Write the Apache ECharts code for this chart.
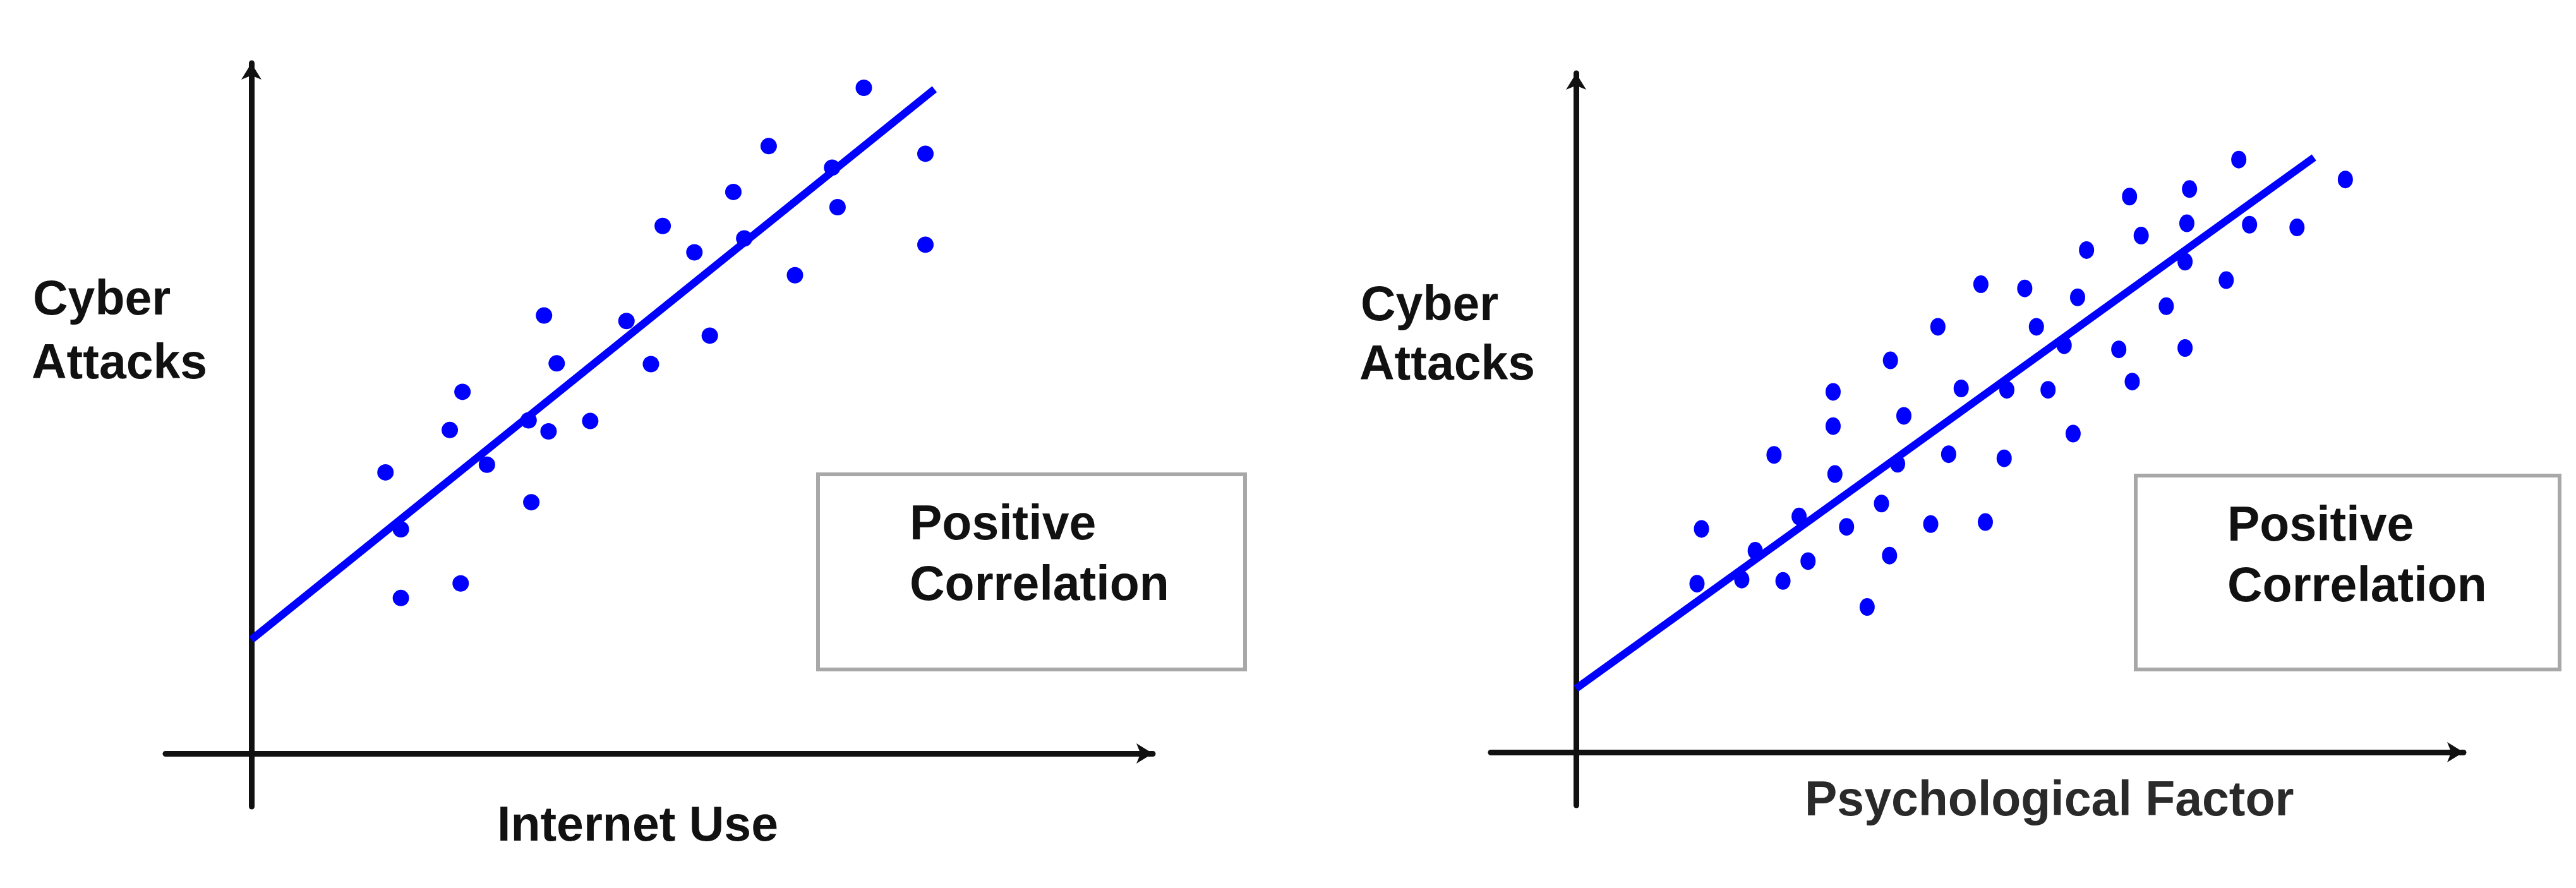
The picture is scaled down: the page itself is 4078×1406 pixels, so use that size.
<!DOCTYPE html>
<html>
<head>
<meta charset="utf-8">
<title>Positive Correlation</title>
<script src="https://cdn.jsdelivr.net/npm/echarts@6/dist/echarts.min.js"></script>
<style>
    html, body {margin: 0; padding: 0; background: #fff;}
    #chart {width: 4078px; height: 1406px;}
</style>
</head>
<body>
<div id="chart"></div>
<script>
// left panel: internet use vs cyber attacks (0-100 on each axis)
const internetUse = [67.6, 57.1, 74.4, 64.1, 53.2, 64.7, 45.4, 74.4, 48.9, 54.4, 60.0, 32.3, 41.4, 50.6,
    33.7, 44.1, 23.3, 21.9, 32.8, 37.4, 30.6, 14.8, 26.0, 30.9, 16.5, 23.1, 16.5];
const internetAttacks = [95.9, 87.5, 86.4, 84.4, 80.9, 78.7, 76.0, 73.3, 72.2, 74.2, 68.9, 63.1, 62.3, 60.2,
    56.2, 56.1, 52.1, 46.6, 46.4, 47.9, 48.0, 40.5, 41.6, 36.2, 32.3, 24.5, 22.4];
const internetFitX = [0, 75.4];
const internetFitY = [16.4, 95.7];

// right panel: psychological factor vs cyber attacks
const psychFactor = [74.0, 85.9, 68.5, 61.8, 68.2, 75.2, 80.5, 63.1, 57.0, 68.0, 72.6, 45.2, 50.1, 56.0,
    65.9, 40.4, 51.4, 54.5, 60.6, 68.0, 35.1, 28.7, 43.0, 48.1, 52.7, 62.1, 36.6, 28.7, 55.5, 22.1,
    35.9, 41.6, 47.8, 28.9, 34.1, 14.0, 24.9, 30.2, 39.6, 45.7, 20.0, 25.9, 35.0, 13.5, 18.5, 23.1, 32.5];
const psychAttacks = [86.5, 83.6, 82.2, 81.1, 77.2, 77.0, 76.6, 75.4, 73.3, 71.6, 68.9, 68.3, 67.7, 66.4,
    65.1, 62.1, 62.1, 59.4, 58.8, 59.0, 57.2, 52.6, 53.1, 52.9, 52.9, 54.1, 49.1, 47.6, 46.5, 43.4,
    42.1, 43.5, 42.9, 40.6, 36.3, 32.6, 34.4, 32.9, 33.3, 33.6, 29.4, 27.9, 28.7, 24.6, 25.2, 25.0, 21.2];
const psychFitX = [0, 82.4];
const psychFitY = [9.3, 86.8];

const panelLabels = {
    left: ['Cyber', 'Attacks', 'Internet Use'],
    right: ['Cyber', 'Attacks', 'Psychological Factor'],
    box: ['Positive', 'Correlation'],
};

const BLUE = '#0000ff';
const FONT = '"Liberation Sans", Arial, sans-serif';

const zip = (xs, ys) => xs.map((x, i) => [x, ys[i]]);

const axisLine = {
    onZero: true,
    symbol: ['none', 'arrow'],
    symbolSize: [24, 26],
    lineStyle: {color: '#111', width: 9},
};

const valueAxis = (gridIndex, min, max) => ({
    type: 'value',
    gridIndex,
    min,
    max,
    axisLine,
    axisTick: {show: false},
    axisLabel: {show: false},
    splitLine: {show: false},
});

const label = (text, x, y, color) => ({
    type: 'text',
    x,
    y,
    style: {
        text,
        fill: color || '#111',
        font: `bold 77px ${FONT}`,
        verticalAlign: 'middle',
    },
});

const box = (x, y, width, height) => ([
    {
        type: 'rect',
        shape: {x, y, width, height},
        style: {fill: '#fff', stroke: '#a8a8a8', lineWidth: 6},
        z: 1,
    },
    {...label(panelLabels.box[0], x + 145, y + 82), z: 2},
    {...label(panelLabels.box[1], x + 145, y + 178), z: 2},
]);

const chart = echarts.init(document.getElementById('chart'));

chart.setOption({
    animation: false,
    backgroundColor: '#fff',
    grid: [
        {left: 262, top: 100, width: 1563, height: 1177},
        {left: 2360, top: 116, width: 1540, height: 1159},
    ],
    xAxis: [
        valueAxis(0, -9.48, 99.5),
        valueAxis(1, -9.53, 99.1),
    ],
    yAxis: [
        valueAxis(0, -7.64, 99.45),
        valueAxis(1, -7.74, 99.1),
    ],
    series: [
        {
            type: 'scatter',
            xAxisIndex: 0,
            yAxisIndex: 0,
            symbolSize: 26,
            itemStyle: {color: BLUE, opacity: 1},
            data: zip(internetUse, internetAttacks),
        },
        {
            type: 'line',
            xAxisIndex: 0,
            yAxisIndex: 0,
            showSymbol: false,
            lineStyle: {color: BLUE, width: 12},
            z: 3,
            data: zip(internetFitX, internetFitY),
        },
        {
            type: 'scatter',
            xAxisIndex: 1,
            yAxisIndex: 1,
            symbolSize: [24, 28],
            itemStyle: {color: BLUE, opacity: 1},
            data: zip(psychFactor, psychAttacks),
        },
        {
            type: 'line',
            xAxisIndex: 1,
            yAxisIndex: 1,
            showSymbol: false,
            lineStyle: {color: BLUE, width: 12},
            z: 3,
            data: zip(psychFitX, psychFitY),
        },
    ],
    graphic: [
        label(panelLabels.left[0], 52, 477),
        label(panelLabels.left[1], 50, 578),
        label(panelLabels.left[2], 787, 1310),
        label(panelLabels.right[0], 2154, 486),
        label(panelLabels.right[1], 2152, 580),
        label(panelLabels.right[2], 2857, 1270, '#2a2a2a'),
        ...box(1295, 751, 676, 309),
        ...box(3381, 753, 671, 307),
    ],
});
</script>
</body>
</html>
